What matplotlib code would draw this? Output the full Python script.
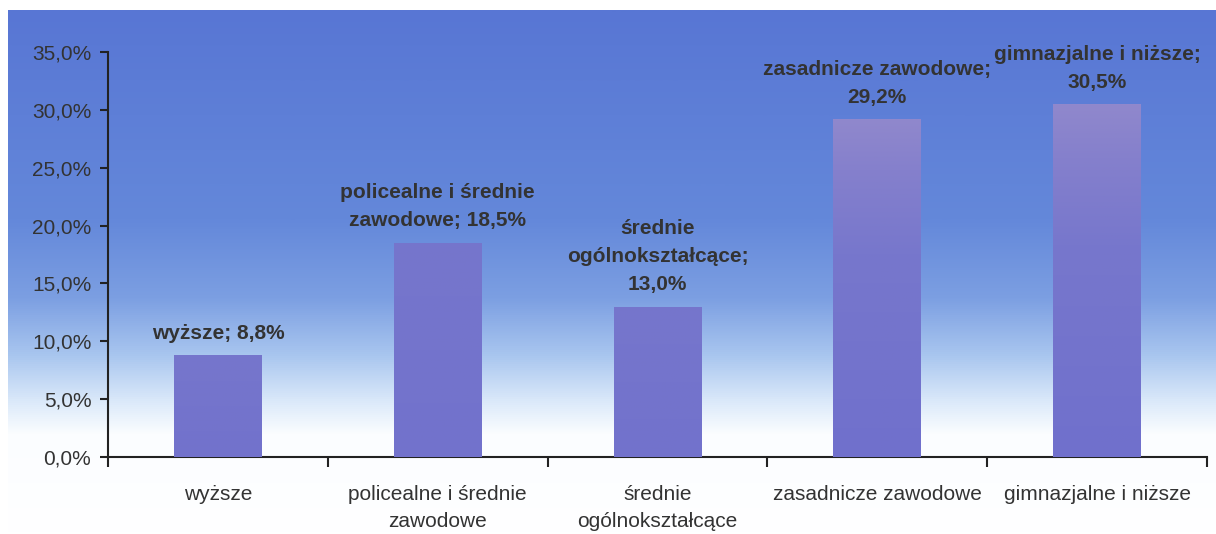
import numpy as np
import matplotlib
matplotlib.use("Agg")
import matplotlib.pyplot as plt
from matplotlib.colors import LinearSegmentedColormap

categories = ["wyższe", "policealne i średnie\nzawodowe", "średnie\nogólnokształcące",
              "zasadnicze zawodowe", "gimnazjalne i niższe"]
values = [8.8, 18.5, 13.0, 29.2, 30.5]
value_labels = ["wyższe; 8,8%", "policealne i średnie\nzawodowe; 18,5%",
                "średnie\nogólnokształcące;\n13,0%", "zasadnicze zawodowe;\n29,2%",
                "gimnazjalne i niższe;\n30,5%"]
yticks = [0, 5, 10, 15, 20, 25, 30, 35]
ytick_labels = ["0,0%", "5,0%", "10,0%", "15,0%", "20,0%", "25,0%", "30,0%", "35,0%"]

plt.rcParams['font.family'] = ['Liberation Sans', 'DejaVu Sans']
W, H = 1216, 534
fig = plt.figure(figsize=(W / 100, H / 100), dpi=100)

# background gradient
bg = fig.add_axes([8 / W, 0, 1 - 8 / W, 1 - 10 / H])
bg.set_axis_off()
bg_cmap = LinearSegmentedColormap.from_list("bg", [
    (0.0, "#5876d4"), (0.40, "#6488da"), (0.55, "#7c9fe2"),
    (0.66, "#a9c6ef"), (0.75, "#dceafa"), (0.81, "#fbfdff"), (1.0, "#ffffff")])
grad = np.linspace(0, 1, 512).reshape(-1, 1)
bg.imshow(grad, aspect="auto", cmap=bg_cmap, extent=[0, 1, 0, 1], origin="upper")

ax = fig.add_axes([108 / W, 1 - 457 / H, (1207 - 108) / W, (457 - 52) / H])
ax.patch.set_alpha(0)
x = np.arange(len(categories))
bars = ax.bar(x, values, width=0.4, color="#7272cc", zorder=2)

bar_cmap_plain = LinearSegmentedColormap.from_list("bp", ["#7272cc", "#7676cc"])
bar_cmap_pink = LinearSegmentedColormap.from_list("bk", [
    (0.0, "#7070cc"), (0.6, "#7777cc"), (0.85, "#8580cc"), (1.0, "#9088cc")])
for i, b in enumerate(bars):
    cm = bar_cmap_pink if values[i] > 25 else bar_cmap_plain
    g = np.linspace(0, 1, 256).reshape(-1, 1)
    im = ax.imshow(g, aspect="auto", cmap=cm, origin="lower",
                   extent=[b.get_x(), b.get_x() + b.get_width(), 0, b.get_height()],
                   zorder=3)
    im.set_clip_path(b)

for i, (v, lab) in enumerate(zip(values, value_labels)):
    ax.annotate(lab, (x[i], v), xytext=(0, 9), textcoords="offset points",
                ha="center", va="bottom", fontsize=15, fontweight="bold",
                color="#333333", linespacing=1.6, annotation_clip=False, zorder=4)

ax.set_xlim(-0.5, len(categories) - 0.5)
ax.set_ylim(0, 35)
ax.set_yticks(yticks)
ax.set_yticklabels(ytick_labels, fontsize=15, color="#333333")
ax.set_xticks(x)
ax.set_xticklabels(categories, fontsize=15, color="#333333", linespacing=1.55)
ax.tick_params(axis="x", length=0, pad=20)
ax.set_xticks(np.arange(len(categories) + 1) - 0.5, minor=True)
ax.tick_params(axis="x", which="minor", length=7, width=1.5, color="#222222")
ax.tick_params(axis="y", length=6, width=1.5, color="#222222", pad=6)
for s in ["top", "right"]:
    ax.spines[s].set_visible(False)
for s in ["left", "bottom"]:
    ax.spines[s].set_linewidth(1.5)
    ax.spines[s].set_color("#222222")

fig.savefig("out.png", dpi=100)
